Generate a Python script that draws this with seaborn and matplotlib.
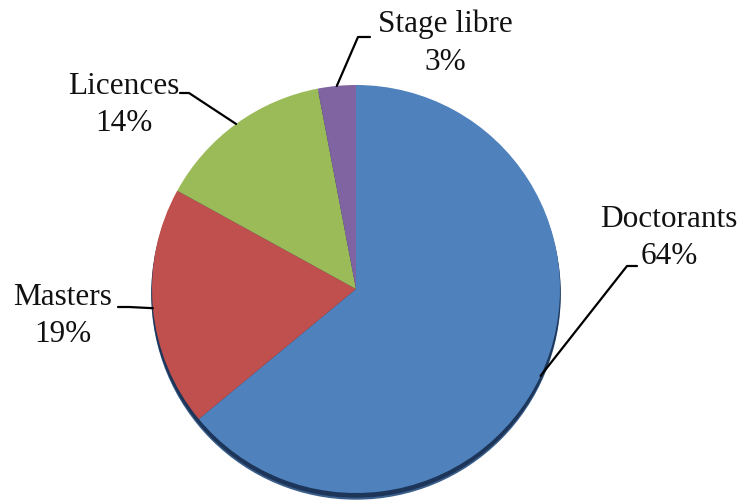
import numpy as np
import matplotlib
matplotlib.use("Agg")
import matplotlib.pyplot as plt
import seaborn as sns
from matplotlib.patches import Circle

categories = ["Doctorants", "Masters", "Licences", "Stage libre"]
values = [64, 19, 14, 3]
colors = ["#4F81BD", "#C0504D", "#9BBB59", "#8064A2"]

# label text positions (pixels, y from top) and elbow of the leader line
label_pos = {
    "Doctorants": (669, 238),
    "Masters": (63, 316),
    "Licences": (124, 105),
    "Stage libre": (445, 43),
}
elbow = {
    "Doctorants": [(637, 266), (627, 266)],
    "Masters": [(118, 307), (129, 307)],
    "Licences": [(180, 93), (189, 93)],
    "Stage libre": [(370, 37), (358, 37)],
}

sns.set_theme(style="white")
plt.rcParams["font.family"] = ["Liberation Serif", "DejaVu Serif"]

W, H = 744, 501
fig = plt.figure(figsize=(W / 100, H / 100), dpi=100)
ax = fig.add_axes([0, 0, 1, 1])

cx, cy, r = 356, H - 289, 204

# soft shadow under the pie
ax.add_patch(Circle((cx, cy - 6), r, color="#3b5f8c", zorder=0))
ax.add_patch(Circle((cx, cy - 4), r, color="#1c3558", zorder=0.5))

wedges, _ = ax.pie(values, colors=colors, startangle=90, counterclock=False,
                   center=(cx, cy), radius=r, frame=True,
                   wedgeprops=dict(linewidth=0))
ax.set_xlim(0, W)
ax.set_ylim(0, H)
ax.set_aspect("equal")
ax.axis("off")

for w, name, v in zip(wedges, categories, values):
    mid = np.deg2rad((w.theta1 + w.theta2) / 2)
    ax_pt = (cx + r * np.cos(mid), cy + r * np.sin(mid))
    pts = [(x, H - y) for x, y in elbow[name]] + [ax_pt]
    xs, ys = zip(*pts)
    ax.plot(xs, ys, color="black", lw=1.6, zorder=5)
    tx, ty = label_pos[name]
    ax.text(tx, H - ty, f"{name}\n{v}%", ha="center", va="center",
            fontsize=22.5, linespacing=1.4, color="#111111")

fig.savefig("out.png", dpi=100)
